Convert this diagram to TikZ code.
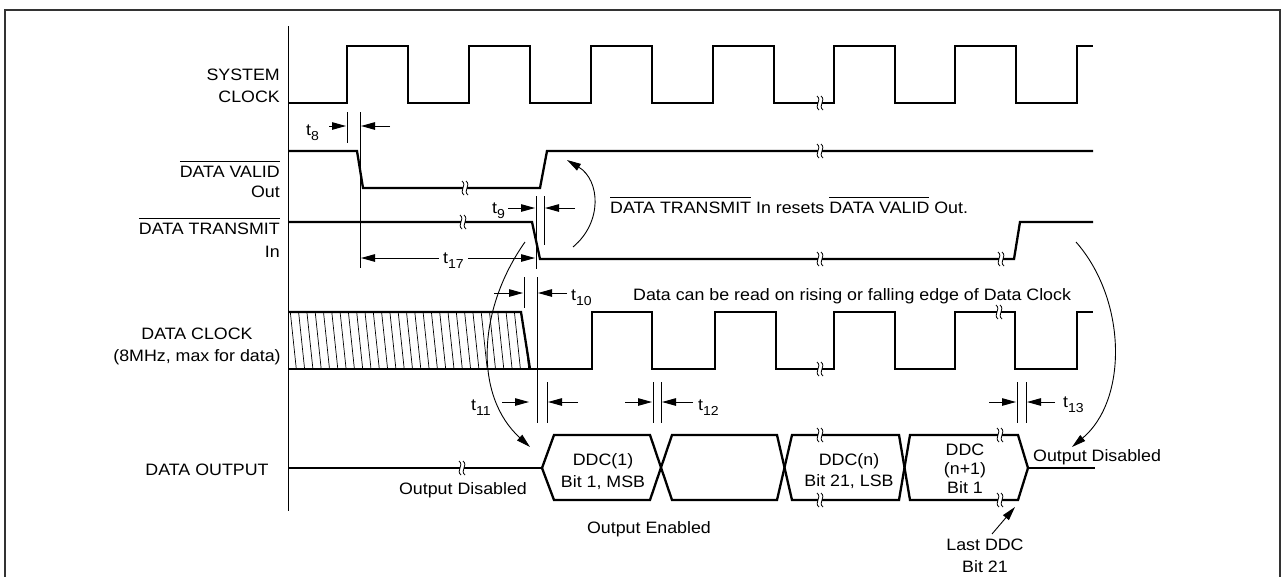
\documentclass[tikz,border=0pt]{standalone}
\usepackage{fontspec}
\setmainfont[FakeStretch=1.08]{Liberation Sans}
\usetikzlibrary{arrows.meta}
\newlength\olw
\newcommand\olbar[1]{\settowidth{\olw}{#1}\rlap{\rule[15.5pt]{\olw}{0.9pt}}#1}
\newcommand\tsub[1]{t\raisebox{-5pt}{\fontsize{13}{13}\selectfont #1}}
\begin{document}
\begin{tikzpicture}[x=1pt,y=-1pt,
  sig/.style={line width=2.3pt},
  thinl/.style={line width=0.9pt},
  dim/.style={line width=1pt,-{Triangle[length=14pt,width=7.5pt]}},
  curv/.style={line width=0.9pt,-{Triangle[length=14pt,width=7.5pt]}},
  lbl/.style={font=\fontsize{16.5}{19}\selectfont, inner sep=0pt},
  brk/.pic={
    \fill[white] (-1.8,-5) rectangle (1.8,5);
    \draw[line width=0.8pt] (-3,-7) .. controls (2.5,-2.5) and (-6.5,2.5) .. (-1,7);
    \draw[line width=0.8pt] (1,-7) .. controls (6.5,-2.5) and (-2.5,2.5) .. (3,7);
  }]
\useasboundingbox (0,0) rectangle (1283,576);
% frame
\draw[line width=2pt, black!80] (5,600) -- (5,10) -- (1280,10) -- (1280,600);
% axis
\draw[thinl] (288,26) -- (288,511);

% left labels
\node[lbl, anchor=base east] (sys1) at (280,80) {SYSTEM};
\node[lbl, anchor=base east] (sys2) at (280,102) {CLOCK};
\node[lbl, anchor=base east] (dv1) at (280,177) {\olbar{DATA VALID}};
\node[lbl, anchor=base east] (dv2) at (280,197) {Out};
\node[lbl, anchor=base east] (dt1) at (280,234) {\olbar{DATA TRANSMIT}};
\node[lbl, anchor=base east] (dt2) at (280,257) {In};
\node[lbl, anchor=base] (dc1) at (197,339) {DATA CLOCK};
\node[lbl, anchor=base] (dc2) at (197,361) {(8MHz, max for data)};
\node[lbl, anchor=base] (dout) at (207,475) {DATA OUTPUT};

% system clock
\draw[sig] (288,103) -- (347,103) -- (347,46) -- (408,46) -- (408,103) -- (469,103) -- (469,46)
  -- (530,46) -- (530,103) -- (591,103) -- (591,46) -- (652,46) -- (652,103) -- (713,103)
  -- (713,46) -- (774,46) -- (774,103) -- (834,103) -- (834,46) -- (895,46) -- (895,103)
  -- (955,103) -- (955,46) -- (1016,46) -- (1016,103) -- (1077,103) -- (1077,46) -- (1093,46);
% data valid
\draw[sig] (288,151) -- (357,151) -- (363,188) -- (540,188) -- (547,151) -- (1093,151);
% data transmit
\draw[sig] (288,222) -- (532,222) -- (540,259) -- (1014,259) -- (1020,222) -- (1093,222);
% data clock hatched part
\begin{scope}
  \clip (288,312) -- (521,312) -- (530,369) -- (288,369) -- cycle;
  \foreach \x in {282,290.3,...,540} \draw[line width=0.7pt] (\x,312) -- (\x+6,369);
\end{scope}
\draw[sig] (288,312) -- (521,312) -- (530,369);
\draw[sig] (288,369) -- (592,369) -- (592,312) -- (652,312) -- (652,369) -- (715,369) -- (715,312)
  -- (776,312) -- (776,369) -- (834,369) -- (834,312) -- (895,312) -- (895,369) -- (955,369)
  -- (955,312) -- (1015,312) -- (1015,369) -- (1077,369) -- (1077,312) -- (1093,312);
% data output
\draw[sig] (288,468) -- (542,468);
\draw[sig] (542,468) -- (554,435) -- (650,435) -- (672,500) -- (777,500) -- (792,435) -- (899,435)
  -- (910,500) -- (1018,500) -- (1028,468);
\draw[sig] (542,468) -- (554,500) -- (650,500) -- (672,435) -- (777,435) -- (792,500) -- (899,500)
  -- (910,435) -- (1018,435) -- (1028,468);
\draw[sig] (1028,468) -- (1095,468);

% breaks
\foreach \p in {(820,103),(465,188),(820,151),(463,222),(820,259),(1001,259),(820,369),(999,312),
  (462,468),(820,435),(820,500),(1000,435),(1000,500)}
  \pic at \p {brk};

% timing reference lines
\draw[thinl] (347,112) -- (347,143);
\draw[thinl] (360,112) -- (360,268);
\draw[thinl] (536,196) -- (536,269);
\draw[thinl] (544,196) -- (544,245);
\draw[thinl] (524,277) -- (524,308);
\draw[thinl] (537,277) -- (537,423);
\draw[thinl] (547,382) -- (547,423);
\draw[thinl] (653,382) -- (653,423);
\draw[thinl] (661,382) -- (661,423);
\draw[thinl] (1017,382) -- (1017,423);
\draw[thinl] (1026,382) -- (1026,423);

% timing labels and arrows
\node[lbl, anchor=base west] (t8) at (306,135) {\tsub{8}};
\draw[dim] (329,126) -- (346,126);
\draw[dim] (390,126) -- (361,126);
\node[lbl, anchor=base west] (t9) at (492,213) {\tsub{9}};
\draw[dim] (508,208) -- (535,208);
\draw[dim] (575,208) -- (545,208);
\node[lbl, anchor=base west] (t17) at (443,263) {\tsub{17}};
\draw[dim] (439,258) -- (361,258);
\draw[dim] (468,258) -- (535,258);
\draw[dim] (494,293) -- (523,293);
\draw[dim] (567,293) -- (538,293);
\node[lbl, anchor=base west] (t10) at (571,300) {\tsub{10}};
\node[lbl, anchor=base west] (t11) at (471,410) {\tsub{11}};
\draw[dim] (502,402) -- (529,402);
\draw[dim] (578,402) -- (548,402);
\draw[dim] (625,402) -- (652,402);
\draw[dim] (693,402) -- (662,402);
\node[lbl, anchor=base west] (t12) at (698,410) {\tsub{12}};
\draw[dim] (989,402) -- (1016,402);
\draw[dim] (1055,402) -- (1027,402);
\node[lbl, anchor=base west] (t13) at (1063,407) {\tsub{13}};

% annotations
\node[lbl, anchor=base west] (reset) at (610,213) {\olbar{DATA TRANSMIT} In resets \olbar{DATA VALID} Out.};
\node[lbl, anchor=base west] (read) at (633,300) {Data can be read on rising or falling edge of Data Clock};
\node[lbl, anchor=base] (odis1) at (463,494) {Output Disabled};
\node[lbl, anchor=base] (ddc1a) at (603,465) {DDC(1)};
\node[lbl, anchor=base] (ddc1b) at (603,487) {Bit 1, MSB};
\node[lbl, anchor=base] (ddcna) at (849,465) {DDC(n)};
\node[lbl, anchor=base] (ddcnb) at (849,486) {Bit 21, LSB};
\node[lbl, anchor=base] (ddcma) at (965,455) {DDC};
\node[lbl, anchor=base] (ddcmb) at (965,474) {(n+1)};
\node[lbl, anchor=base] (ddcmc) at (965,493) {Bit 1};
\node[lbl, anchor=base] (oen) at (649,533) {Output Enabled};
\node[lbl, anchor=base west] (odis2) at (1033,461) {Output Disabled};
\node[lbl, anchor=base] (last1) at (985,550) {Last DDC};
\node[lbl, anchor=base] (last2) at (985,572) {Bit 21};

% curved arrows
\coordinate (ca1) at (573,247); \coordinate (ca2) at (567,160);
\draw[curv] (ca1) .. controls (603,222) and (600,180) .. (ca2);
\coordinate (cb1) at (525,242); \coordinate (cb2) at (530,447);
\draw[curv] (cb1) .. controls (477,310) and (474,396) .. (cb2);
\coordinate (cc1) at (1076,242); \coordinate (cc2) at (1072,447);
\draw[curv] (cc1) .. controls (1127,300) and (1128,400) .. (cc2);
\coordinate (ld1) at (992,534); \coordinate (ld2) at (1015,507);
\draw[curv] (ld1) -- (ld2);
\end{tikzpicture}
\end{document}
